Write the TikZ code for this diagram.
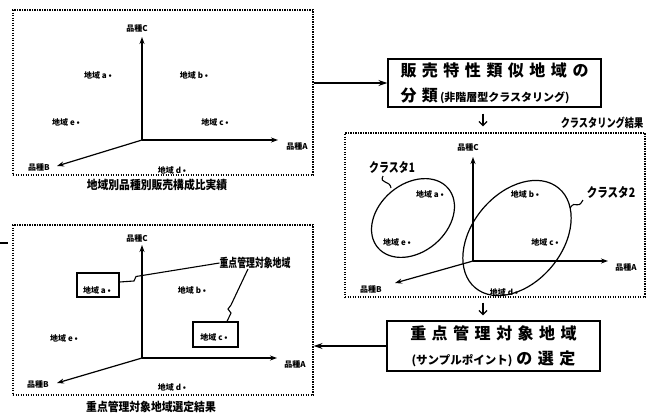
\documentclass[tikz,border=0pt]{standalone}
\usepackage{fontspec}
\usetikzlibrary{arrows.meta,shapes.geometric}
\newfontfamily\jp{Noto Sans CJK JP}
\newcommand\gapp{\hspace{5.5pt}}
\tikzset{
  panel/.style={draw, line width=1.3pt, dash pattern=on 1.3pt off 1.2pt, inner sep=0pt},
  procbox/.style={draw, line width=1.3pt, inner sep=0pt},
  axisline/.style={line width=1.2pt, -{Stealth[length=7pt,width=5pt]}},
  bigarrow/.style={line width=1.8pt, -{Stealth[length=9pt,width=6pt]}},
  downarr/.style={line width=1.3pt, -{Straight Barb[length=4pt,width=8pt]}},
  leadline/.style={line width=1.1pt},
  axlab/.style={font=\jp\bfseries\fontsize{8}{9}\selectfont, inner sep=0pt},
  ptlab/.style={font=\jp\bfseries\fontsize{8}{9}\selectfont, inner sep=0pt},
  captext/.style={font=\jp\bfseries\fontsize{12}{13}\selectfont, inner sep=0pt, xscale=0.9},
  clu/.style={draw, ellipse, line width=1.2pt, inner sep=0pt},
  selbox/.style={draw, line width=1.1pt, inner sep=0pt}
}
\begin{document}
\begin{tikzpicture}[x=1pt,y=-1pt]
\useasboundingbox (0,0) rectangle (662,416);
% ---------- panels and boxes
\node[panel, minimum width=300pt, minimum height=165pt] (tl) at (163,92.5) {};
\node[panel, minimum width=300pt, minimum height=164pt] (cr) at (495,215) {};
\node[panel, minimum width=300pt, minimum height=170pt] (bl) at (163,310) {};
\node[procbox, minimum width=213pt, minimum height=48pt, align=left,
      font=\jp\bfseries\fontsize{16}{25}\selectfont] (box1) at (494.5,83)
  {販\gapp 売\gapp 特\gapp 性\gapp 類\gapp 似\gapp 地\gapp 域\gapp の\\
   分\gapp 類\hspace{2pt}{\fontsize{11}{12}\selectfont (非階層型クラスタリング)}};
\node[procbox, minimum width=213pt, minimum height=50pt, align=center,
      font=\jp\bfseries\fontsize{16}{25}\selectfont] (box2) at (493.5,346)
  {重\gapp 点\gapp 管\gapp 理\gapp 対\gapp 象\gapp 地\gapp 域\\
   {\fontsize{11.5}{12}\selectfont (サンプルポイント)}\hspace{4pt}の\gapp 選\gapp 定};
% ---------- connectors between stages
\draw[bigarrow] (tl.east |- box1.west) -- (box1.west);
\draw[downarr] ([xshift=-11.5pt,yshift=-6pt]box1.south) -- ([xshift=-12pt,yshift=6pt]cr.north);
\draw[downarr] ([xshift=-12pt,yshift=-5pt]cr.south) -- ([xshift=-10.5pt,yshift=5pt]box2.north);
\draw[bigarrow] (box2.west) -- (box2.west -| bl.east);
\coordinate (s1) at (0,243); \coordinate (s2) at (8,243);
\draw[line width=1.4pt] (s1) -- (s2);
% ---------- captions
\node[captext] (c1) at (157,185) {地域別品種別販売構成比実績};
\node[captext] (c3) at (151,407) {重点管理対象地域選定結果};
\node[captext, xscale=0.85] (c2) at (602,123) {クラスタリング結果};
% ---------- top-left axes
\coordinate (o1) at (142,140);
\coordinate (c1e) at (142,37); \coordinate (a1e) at (278,140); \coordinate (b1e) at (57,166);
\draw[axisline] (o1) -- (c1e);
\draw[axisline] (o1) -- (a1e);
\draw[axisline] (o1) -- (b1e);
\node[axlab] (lc1) at (137,28) {品種C};
\node[axlab] (la1) at (297,146) {品種A};
\node[axlab] (lb1) at (39,167) {品種B};
\node[ptlab] (pa1) at (98,75) {地域 a •};
\node[ptlab] (pb1) at (194,75) {地域 b •};
\node[ptlab] (pe1) at (66,122) {地域 e •};
\node[ptlab] (pc1) at (215,122) {地域 c •};
\node[ptlab] (pd1) at (172,170) {地域 d •};
% ---------- cluster panel
\coordinate (o2) at (473,261);
\coordinate (c2e) at (473,157); \coordinate (a2e) at (608,261); \coordinate (b2e) at (395,283);
\draw[axisline] (o2) -- (c2e);
\draw[axisline] (o2) -- (a2e);
\draw[axisline] (o2) -- (b2e);
\node[axlab] (lc2) at (468,147) {品種C};
\node[axlab] (la2) at (626,267) {品種A};
\node[axlab] (lb2) at (371,289) {品種B};
\node[ptlab] (pa2) at (430,194) {地域 a •};
\node[ptlab] (pe2) at (397,242) {地域 e •};
\node[ptlab] (pb2) at (525,194) {地域 b •};
\node[ptlab] (pc2) at (545,242) {地域 c •};
\node[ptlab] (pd2) at (504,292) {地域 d •};
\node[clu, minimum width=92pt, minimum height=68pt, rotate=40] (k1) at (413,218) {};
\node[clu, minimum width=130pt, minimum height=90pt, rotate=50] (k2) at (517,238) {};
\node[captext, font=\jp\bfseries\fontsize{13}{14}\selectfont, xscale=0.85] (lk1) at (392,167) {クラスタ1};
\node[captext, font=\jp\bfseries\fontsize{13}{14}\selectfont, xscale=0.9] (lk2) at (611,192) {クラスタ2};
\coordinate (q1) at (383,176); \coordinate (q2) at (391,188);
\draw[leadline] (q1) .. controls (379,184) and (390,180) .. (q2);
\coordinate (q3) at (583,200); \coordinate (q4) at (570,208);
\draw[leadline] (q3) .. controls (577,211) and (576,199) .. (q4);
% ---------- bottom-left panel
\coordinate (o3) at (142,358);
\coordinate (c3e) at (142,245); \coordinate (a3e) at (277,358); \coordinate (b3e) at (57,383);
\draw[axisline] (o3) -- (c3e);
\draw[axisline] (o3) -- (a3e);
\draw[axisline] (o3) -- (b3e);
\node[axlab] (lc3) at (137,238) {品種C};
\node[axlab] (la3) at (295,364) {品種A};
\node[axlab] (lb3) at (38,384) {品種B};
\node[ptlab] (pa3) at (97,290) {地域 a •};
\node[ptlab] (pb3) at (192,290) {地域 b •};
\node[ptlab] (pe3) at (64,338) {地域 e •};
\node[ptlab] (pc3) at (214,337) {地域 c •};
\node[ptlab] (pd3) at (172,387) {地域 d •};
\node[selbox, minimum width=42pt, minimum height=24pt] (ma) at (98,285) {};
\node[selbox, minimum width=45pt, minimum height=25pt] (mc) at (215.5,334.5) {};
\node[captext, xscale=0.82] (lsel) at (255,263) {重点管理対象地域};
\draw[leadline] (lsel.west) -- (136,276.5) -- (134,281) -- (ma.east |- 0,282);
\draw[leadline] ([xshift=-7pt]lsel.south) -- (231,305) -- (228,309) -- (231,313) -- (mc.north -| 227,0);
\end{tikzpicture}
\end{document}
